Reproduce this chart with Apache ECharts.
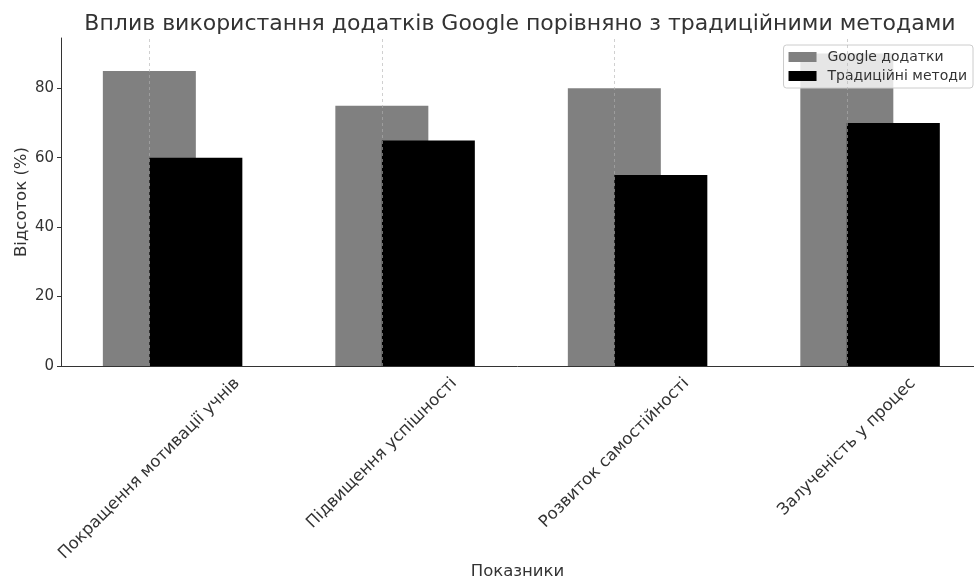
<!DOCTYPE html>
<html><head><meta charset="utf-8">
<script src="https://cdn.jsdelivr.net/npm/echarts@6/dist/echarts.min.js"></script>
<style>html,body{margin:0;padding:0;background:#fff}#c{width:974px;height:580px}</style>
</head><body><div id="c"></div>
<script>
const categories = ['Покращення мотивації учнів', 'Підвищення успішності', 'Розвиток самостійності', 'Залученість у процес'];
const googleValues = [85, 75, 80, 90];
const traditionalValues = [60, 65, 55, 70];
const seriesNames = ['Google додатки', 'Традиційні методи'];
const yTicks = [0, 20, 40, 60, 80];
const titleText = 'Вплив використання додатків Google порівняно з традиційними методами';
const yName = 'Відсоток (%)';
const xName = 'Показники';

const FONT = '"DejaVu Sans", sans-serif';
const W = 974;
const grid = {left: 61, right: 0, top: 38, bottom: 214, outerBoundsMode: 'none', containLabel: false};
const xMin = -0.38, xMax = 3.547;
const barFrac = 0.4, offset = 0.2;
const pxPerUnit = (W - grid.left - grid.right) / (xMax - xMin);
const barW = barFrac * pxPerUnit;

const LABEL_FS = 16.5;
const ctx = document.createElement('canvas').getContext('2d');
ctx.font = LABEL_FS + 'px "DejaVu Sans"';
const labelH = LABEL_FS;
const rich = {};
categories.forEach((c, i) => {
  const L = ctx.measureText(c).width;
  const p = (L + labelH) / 2;
  rich['c' + i] = {padding: [p, p, 0, 0], fontSize: LABEL_FS, fontFamily: FONT, color: '#333'};
});

const chart = echarts.init(document.getElementById('c'), null, {renderer: 'canvas'});
chart.setOption({
  animation: false,
  backgroundColor: '#fff',
  title: {text: titleText, left: 515, textAlign: 'center', top: 8,
    textStyle: {fontSize: 22, fontWeight: 'normal', color: '#333', fontFamily: FONT}},
  legend: {data: seriesNames, orient: 'vertical', right: 1, top: 45, icon: 'rect',
    itemWidth: 28, itemHeight: 10, itemGap: 5, padding: [5, 6, 5, 5],
    backgroundColor: 'rgba(255,255,255,0.8)', borderColor: '#cccccc', borderWidth: 1, borderRadius: 3,
    textStyle: {fontSize: 14, color: '#333', fontFamily: FONT, padding: [0, 0, 0, 6]}},
  grid: grid,
  xAxis: {type: 'value', min: xMin, max: xMax,
    name: xName, nameLocation: 'middle', nameGap: 197, nameMoveOverlap: false,
    nameTextStyle: {fontSize: 16.5, color: '#333', fontFamily: FONT},
    axisLine: {show: true, onZero: false, lineStyle: {color: '#333', width: 1}},
    axisTick: {show: false},
    splitLine: {show: false},
    axisLabel: {customValues: [0, 1, 2, 3], rotate: 45, align: 'center', verticalAlign: 'middle', margin: 9,
      formatter: v => { const i = Math.round(v); return '{c' + i + '|' + categories[i] + '}'; },
      rich: rich}},
  yAxis: {type: 'value', min: 0, max: 94.5,
    name: yName, nameLocation: 'middle', nameGap: 31, nameRotate: 90, nameMoveOverlap: false,
    nameTextStyle: {fontSize: 16.5, color: '#333', fontFamily: FONT},
    axisLine: {show: true, onZero: false, lineStyle: {color: '#333', width: 1}},
    axisTick: {show: true, customValues: yTicks, length: 4, lineStyle: {color: '#333'}},
    splitLine: {show: false},
    axisLabel: {customValues: yTicks, fontSize: 15, color: '#333', fontFamily: FONT, margin: 7}},
  series: [
    {type: 'bar', name: seriesNames[0], data: googleValues.map((v, i) => [i, v]),
      barWidth: barW, barGap: '-100%', itemStyle: {color: '#808080'},
      markLine: {silent: true, symbol: 'none', label: {show: false}, animation: false,
        emphasis: {disabled: true},
        lineStyle: {type: [3, 3], color: 'rgba(176,176,176,0.6)', width: 1},
        data: categories.map((c, i) => ({xAxis: i}))}},
    {type: 'bar', name: seriesNames[1], data: traditionalValues.map((v, i) => [i + offset, v]),
      barWidth: barW, barGap: '-100%', itemStyle: {color: '#000000'}}
  ]
});
</script></body></html>
